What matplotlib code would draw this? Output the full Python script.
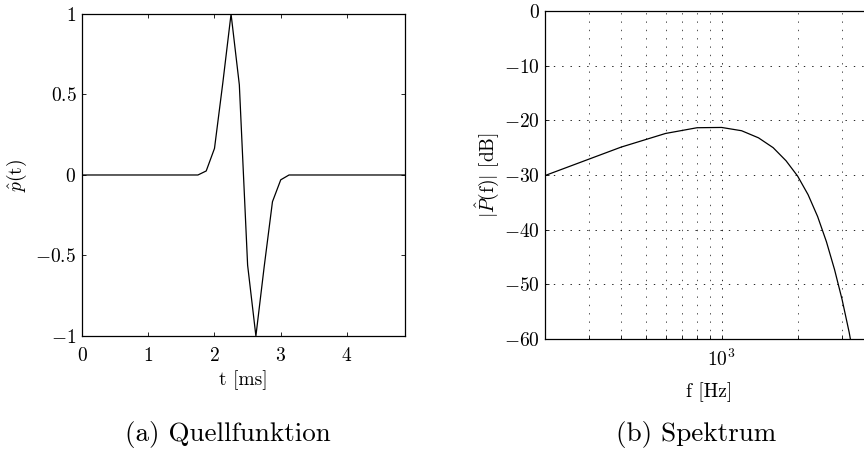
import numpy as np
import matplotlib
matplotlib.use("Agg")
import matplotlib.pyplot as plt
from matplotlib.ticker import NullFormatter, LogLocator

# Quellfunktion: Abtastwerte (8 kHz, 40 Werte)
t_ms = [0.000, 0.125, 0.250, 0.375, 0.500, 0.625, 0.750, 0.875,
        1.000, 1.125, 1.250, 1.375, 1.500, 1.625, 1.750, 1.875,
        2.000, 2.125, 2.250, 2.375, 2.500, 2.625, 2.750, 2.875,
        3.000, 3.125, 3.250, 3.375, 3.500, 3.625, 3.750, 3.875,
        4.000, 4.125, 4.250, 4.375, 4.500, 4.625, 4.750, 4.875]
p_hat = [0, 0, 0, 0, 0, 0, 0, 0,
         0, 0, 0, 0, 0, 0, 0.0, 0.025,
         0.165, 0.57, 1.0, 0.56, -0.56, -1.0, -0.57, -0.166,
         -0.03, 0.0, 0, 0, 0, 0, 0, 0,
         0, 0, 0, 0, 0, 0, 0, 0]

# Spektrum in dB (FFT-Bins alle 200 Hz)
f_hz = [200, 400, 600, 800, 1000, 1200, 1400, 1600, 1800,
        2000, 2200, 2400, 2600, 2800, 3000, 3200, 3400]
P_db = [-30.1, -24.9, -22.4, -21.35, -21.3, -21.9, -23.2, -25.0, -27.4,
        -30.2, -33.6, -37.6, -42.2, -47.3, -52.8, -58.8, -65.5]

p_ticks = [-1, -0.5, 0, 0.5, 1]
p_ticklabels = [r'$-1$', r'$-0.5$', r'$0$', r'$0.5$', r'$1$']
t_ticks = [0, 1, 2, 3, 4]
db_ticks = [-60, -50, -40, -30, -20, -10, 0]
db_ticklabels = [r'$-60$', r'$-50$', r'$-40$', r'$-30$', r'$-20$', r'$-10$', r'$0$']

plt.rcParams['font.family'] = 'cmr10'
plt.rcParams['mathtext.fontset'] = 'cm'
plt.rcParams['axes.formatter.use_mathtext'] = True
plt.rcParams['lines.scale_dashes'] = False

fig = plt.figure(figsize=(8.64, 4.51), dpi=100)

# (a) Quellfunktion
ax1 = fig.add_axes([0.0949, 0.2550, 0.3738, 0.7140])
ax1.plot(t_ms, p_hat, color='black', linewidth=0.9)
ax1.set_xlim(0, 4.875)
ax1.set_ylim(-1, 1)
ax1.set_xticks(t_ticks, [r'$%d$' % v for v in t_ticks])
ax1.set_yticks(p_ticks, p_ticklabels)
ax1.tick_params(direction='in', length=3, width=0.6, top=True, right=True,
                labelsize=14, pad=4)
ax1.tick_params(axis='x', pad=8)
ax1.set_xlabel('t [ms]', fontsize=14, labelpad=4)
ax1.set_ylabel(r'$\hat{p}$(t)', fontsize=14, labelpad=5)
for s in ax1.spines.values():
    s.set_linewidth(0.9)

# (b) Spektrum
ax2 = fig.add_axes([0.6308, 0.2483, 0.3804, 0.7273])
ax2.semilogx(f_hz, P_db, color='black', linewidth=0.9)
ax2.set_xlim(200, 4000)
ax2.set_ylim(-60, 0)
ax2.set_yticks(db_ticks, db_ticklabels)
ax2.xaxis.set_minor_locator(LogLocator(base=10, subs=np.arange(2, 10)))
ax2.xaxis.set_minor_formatter(NullFormatter())
ax2.tick_params(which='both', direction='in', length=3, width=0.6,
                labelsize=14, pad=4)
ax2.tick_params(which='major', axis='x', pad=7)
ax2.grid(True, which='major', color='black', linewidth=0.6, linestyle=(0, (1, 5)))
ax2.grid(True, which='minor', axis='x', color='0.2', linewidth=0.6,
         linestyle=(0, (1, 5)))
ax2.set_xlabel('f [Hz]', fontsize=14, labelpad=9)
ax2.set_ylabel(r'$|\hat{P}$(f)$|$ [dB]', fontsize=14, labelpad=2)
for s in ax2.spines.values():
    s.set_linewidth(0.9)

fig.text(228 / 864, 1 - 434 / 451, '(a) Quellfunktion', fontsize=19.5,
         ha='center', va='center')
fig.text(696 / 864, 1 - 434 / 451, '(b) Spektrum', fontsize=19.5,
         ha='center', va='center')

fig.savefig('out.png', dpi=100)
